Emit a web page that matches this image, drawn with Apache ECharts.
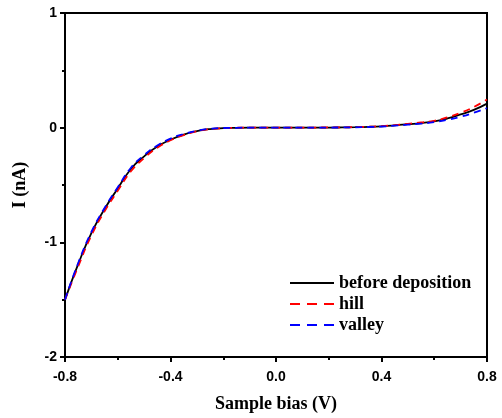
<!DOCTYPE html>
<html>
<head>
<meta charset="utf-8">
<script src="https://cdn.jsdelivr.net/npm/echarts@6/dist/echarts.min.js"></script>
<style>
  html, body { margin: 0; padding: 0; background: #fff; }
  #main { width: 502px; height: 418px; }
</style>
</head>
<body>
<div id="main"></div>
<script>
// sample bias (V)
var bias = [-0.80, -0.75, -0.70, -0.65, -0.60, -0.55, -0.50, -0.45, -0.40, -0.35,
            -0.30, -0.25, -0.20, -0.15, -0.10, -0.05, 0.00, 0.05, 0.10, 0.15,
            0.20, 0.25, 0.30, 0.35, 0.40, 0.45, 0.50, 0.55, 0.60, 0.65,
            0.70, 0.75, 0.80];
// current (nA)
var beforeDep = [-1.50, -1.19, -0.92, -0.71, -0.53, -0.36, -0.25, -0.165, -0.105, -0.06,
                 -0.03, -0.012, -0.004, -0.001, 0.000, 0.000, 0.000, 0.000, 0.000, 0.001,
                 0.001, 0.002, 0.004, 0.007, 0.012, 0.02, 0.03, 0.04, 0.055, 0.08,
                 0.115, 0.155, 0.21];
var hill = [-1.50, -1.21, -0.94, -0.73, -0.55, -0.38, -0.265, -0.175, -0.11, -0.065,
            -0.032, -0.013, -0.004, -0.001, 0.000, 0.000, 0.000, 0.000, 0.000, 0.001,
            0.002, 0.003, 0.005, 0.008, 0.014, 0.022, 0.033, 0.045, 0.06, 0.09,
            0.13, 0.18, 0.245];
var valley = [-1.50, -1.18, -0.91, -0.70, -0.52, -0.35, -0.24, -0.155, -0.095, -0.055,
              -0.027, -0.010, -0.003, -0.001, 0.000, 0.000, 0.000, 0.000, 0.000, 0.001,
              0.001, 0.002, 0.003, 0.006, 0.010, 0.017, 0.026, 0.035, 0.048, 0.068,
              0.095, 0.13, 0.17];

var pairs = function(ys){
  var out = [];
  for (var i = 0; i < bias.length; i++) {
    out.push([bias[i], ys[i]]);
  }
  return out;
};

var tickFont = { fontFamily: 'Liberation Sans', fontWeight: 'bold', fontSize: 14, color: '#000' };
var titleFont = { fontFamily: 'Liberation Serif', fontWeight: 'bold', fontSize: 18, color: '#000' };

// legend icons: a plain bar, and a bar cut in three dashes
var solidIcon = 'path://M0,0h44v2h-44z';
var dashIcon = 'path://M0,0h10v2h-10zM17,0h10v2h-10zM34,0h10v2h-10z';

var mk = function(name, ys, color, type){
  return {
    name: name,
    type: 'line',
    data: pairs(ys),
    smooth: true,
    showSymbol: false,
    symbol: 'none',
    lineStyle: { color: color, width: 1.8, type: type },
    itemStyle: { color: color },
    z: type == 'solid' ? 3 : 4
  };
};

var option = {
  animation: false,
  backgroundColor: '#fff',
  grid: { left: 65, right: 15, top: 13, bottom: 61, show: true, borderColor: '#000', borderWidth: 2, backgroundColor: 'transparent' },
  legend: {
    orient: 'vertical',
    left: 285,
    top: 269,
    itemWidth: 44,
    itemHeight: 2,
    itemGap: 3,
    textStyle: { fontFamily: 'Liberation Serif', fontWeight: 'bold', fontSize: 18, color: '#000' },
    data: [
      { name: 'before deposition', icon: solidIcon },
      { name: 'hill', icon: dashIcon },
      { name: 'valley', icon: dashIcon }
    ]
  },
  xAxis: {
    type: 'value',
    min: -0.8,
    max: 0.8,
    interval: 0.4,
    name: 'Sample bias (V)',
    nameLocation: 'middle',
    nameGap: 38,
    nameTextStyle: titleFont,
    axisLine: { onZero: false, lineStyle: { color: '#000', width: 2 } },
    axisTick: { inside: false, length: 5, lineStyle: { width: 2 } },
    minorTick: { show: true, splitNumber: 2, length: 3, lineStyle: { color: '#000', width: 2 } },
    splitLine: { show: false },
    axisLabel: Object.assign({ margin: 13, formatter: function(v){ return v.toFixed(1); } }, tickFont)
  },
  yAxis: {
    type: 'value',
    min: -2,
    max: 1,
    interval: 1,
    name: 'I (nA)',
    nameLocation: 'middle',
    nameGap: 36,
    nameTextStyle: titleFont,
    axisLine: { onZero: false, lineStyle: { color: '#000', width: 2 } },
    axisTick: { inside: false, length: 5, lineStyle: { width: 2 } },
    minorTick: { show: true, splitNumber: 2, length: 3, lineStyle: { color: '#000', width: 2 } },
    splitLine: { show: false },
    axisLabel: Object.assign({ margin: 8 }, tickFont)
  },
  series: [
    mk('before deposition', beforeDep, '#000000', 'solid'),
    mk('hill', hill, '#ff0000', [7, 5]),
    mk('valley', valley, '#0000ff', [7, 5])
  ]
};

echarts.init(document.getElementById('main')).setOption(option);
</script>
</body>
</html>
